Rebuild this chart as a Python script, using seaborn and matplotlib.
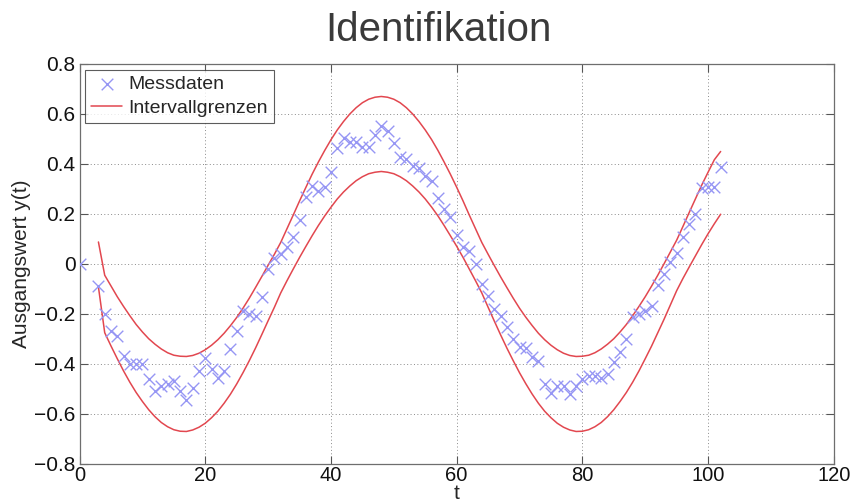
import matplotlib
matplotlib.use("Agg")
from matplotlib import pyplot as plt
import seaborn as sns
import pandas as pd

# Messdaten (t, y)
t_mess = [0] + list(range(3, 103))
y_mess = [0.0,
          -0.087, -0.20, -0.27, -0.287, -0.37, -0.40, -0.40, -0.40, -0.46, -0.51,
          -0.49, -0.48, -0.47, -0.51, -0.545, -0.495, -0.43, -0.375, -0.42, -0.455,
          -0.43, -0.34, -0.27, -0.19, -0.20, -0.207, -0.133, -0.02, 0.025, 0.04,
          0.067, 0.108, 0.177, 0.268, 0.311, 0.291, 0.308, 0.366, 0.463, 0.503,
          0.489, 0.489, 0.469, 0.467, 0.516, 0.552, 0.533, 0.485, 0.426, 0.42,
          0.39, 0.382, 0.351, 0.333, 0.264, 0.218, 0.188, 0.114, 0.067, 0.05,
          0.0, -0.08, -0.13, -0.18, -0.207, -0.254, -0.30, -0.334, -0.337, -0.374,
          -0.39, -0.479, -0.515, -0.49, -0.49, -0.519, -0.49, -0.46, -0.448, -0.448,
          -0.455, -0.44, -0.394, -0.354, -0.30, -0.214, -0.20, -0.187, -0.167, -0.086,
          -0.042, 0.007, 0.043, 0.108, 0.161, 0.199, 0.302, 0.308, 0.308, 0.389]

# Intervallgrenzen, t = 3..102
t_grenze = list(range(3, 103))
y_oben = [0.088,
          -0.045, -0.088, -0.131, -0.170, -0.207, -0.242, -0.272, -0.299, -0.321, -0.340,
          -0.355, -0.365, -0.369, -0.370, -0.366, -0.357, -0.343, -0.325, -0.303, -0.277,
          -0.247, -0.214, -0.177, -0.137, -0.094, -0.050, -0.005, 0.039, 0.086, 0.141,
          0.196, 0.252, 0.306, 0.359, 0.408, 0.454, 0.497, 0.536, 0.570, 0.600,
          0.625, 0.645, 0.659, 0.667, 0.670, 0.667, 0.659, 0.645, 0.625, 0.600,
          0.570, 0.536, 0.498, 0.455, 0.408, 0.359, 0.307, 0.253, 0.196, 0.141,
          0.086, 0.039, -0.007, -0.052, -0.095, -0.137, -0.177, -0.213, -0.246, -0.277,
          -0.303, -0.325, -0.343, -0.357, -0.366, -0.370, -0.369, -0.365, -0.355, -0.340,
          -0.321, -0.299, -0.272, -0.242, -0.207, -0.170, -0.131, -0.089, -0.045, 0.001,
          0.048, 0.095, 0.150, 0.206, 0.261, 0.316, 0.367, 0.417, 0.450]
y_unten = [-0.092,
           -0.275, -0.328, -0.379, -0.428, -0.473, -0.514, -0.550, -0.583, -0.611, -0.634,
           -0.651, -0.663, -0.669, -0.670, -0.664, -0.653, -0.637, -0.615, -0.589, -0.557,
           -0.521, -0.480, -0.435, -0.387, -0.336, -0.282, -0.227, -0.173, -0.116, -0.067,
           -0.020, 0.026, 0.070, 0.113, 0.154, 0.192, 0.227, 0.260, 0.288, 0.312,
           0.333, 0.349, 0.361, 0.367, 0.370, 0.367, 0.361, 0.349, 0.333, 0.312,
           0.288, 0.260, 0.228, 0.193, 0.154, 0.113, 0.071, 0.027, -0.020, -0.067,
           -0.116, -0.173, -0.229, -0.284, -0.337, -0.387, -0.435, -0.479, -0.520, -0.557,
           -0.589, -0.615, -0.637, -0.653, -0.664, -0.670, -0.669, -0.663, -0.651, -0.634,
           -0.611, -0.583, -0.550, -0.514, -0.473, -0.428, -0.379, -0.329, -0.275, -0.221,
           -0.164, -0.107, -0.058, -0.012, 0.033, 0.078, 0.121, 0.161, 0.199]

x_ticks = [0, 20, 40, 60, 80, 100, 120]
y_ticks = [-0.8, -0.6, -0.4, -0.2, 0, 0.2, 0.4, 0.6, 0.8]
y_tick_labels = ['\u22120.8', '\u22120.6', '\u22120.4', '\u22120.2', '0', '0.2', '0.4', '0.6', '0.8']

sns.set_style("white")
plt.rcParams['font.family'] = ['Liberation Sans', 'DejaVu Sans']

mess = pd.DataFrame({'t': t_mess, 'y': y_mess})
grenzen = pd.DataFrame({'t': t_grenze, 'oben': y_oben, 'unten': y_unten})

fig = plt.figure(figsize=(8.52, 5.01), dpi=100)
ax = fig.add_axes([0.0934, 0.0739, 0.8852, 0.7984])

sns.scatterplot(data=mess, x='t', y='y', marker='x', s=70, color='#9696f4',
                linewidth=1.0, label='Messdaten', ax=ax, zorder=3)
sns.lineplot(data=grenzen, x='t', y='oben', color='#e2474f', linewidth=1.1,
             label='Intervallgrenzen', ax=ax, zorder=2)
sns.lineplot(data=grenzen, x='t', y='unten', color='#e2474f', linewidth=1.1,
             ax=ax, zorder=2)

ax.set_xlim(0, 120)
ax.set_ylim(-0.8, 0.8)
ax.set_xticks(x_ticks)
ax.set_yticks(y_ticks)
ax.set_yticklabels(y_tick_labels)
ax.tick_params(direction='in', length=5.5, width=0.8, color='#555555',
               labelsize=15, labelcolor='#111111', top=True, right=True,
               bottom=True, left=True, pad=3)
ax.tick_params(axis='x', labelsize=14.5, pad=1.5)
ax.grid(True, linestyle=(0, (1, 2.5)), color='#8a8a8a', linewidth=0.7)
for s in ax.spines.values():
    s.set_color('#6e6e6e')
    s.set_linewidth(0.9)

ax.set_xlabel('t', fontsize=15, labelpad=-1)
ax.set_ylabel('Ausgangswert y(t)', fontsize=15, labelpad=2)
fig.text(438 / 852, 1 - 30 / 501, 'Identifikation', fontsize=29, color='#3a3a3a',
         ha='center', va='center')

leg = ax.legend(loc='upper left', fontsize=14, frameon=True, fancybox=False,
                borderpad=0.3, handlelength=1.6, handletextpad=0.3,
                labelspacing=0.3, borderaxespad=0.3)
leg.get_frame().set_edgecolor('#333333')
leg.get_frame().set_linewidth(0.8)

fig.savefig('out.png', dpi=100)
